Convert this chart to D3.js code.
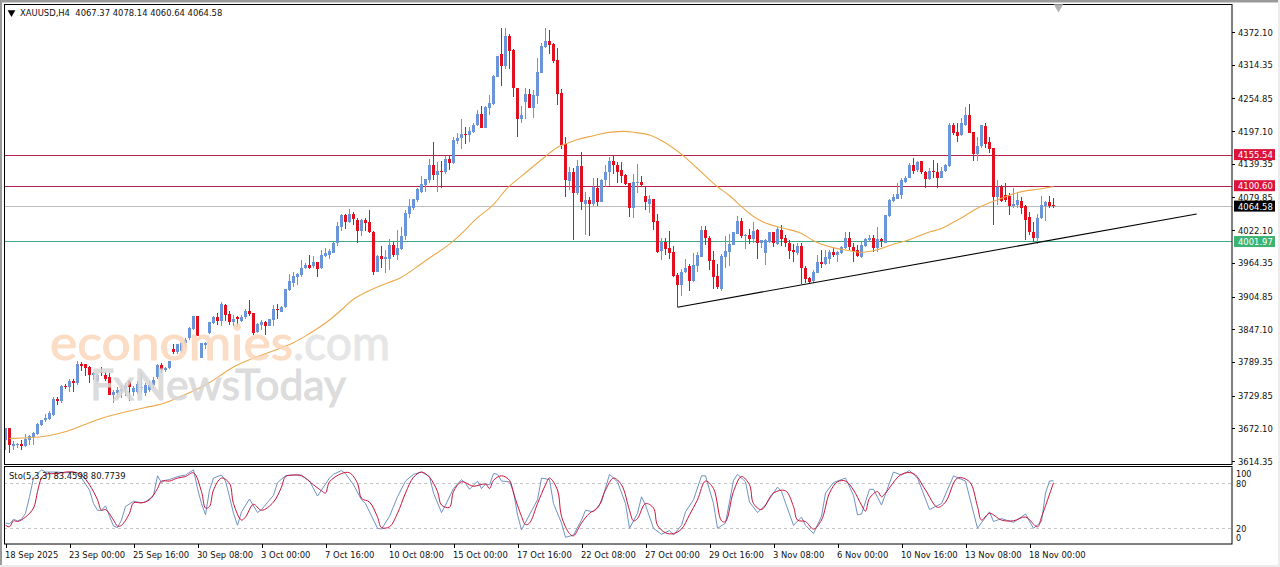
<!DOCTYPE html>
<html>
<head>
<meta charset="utf-8">
<script src="https://cdnjs.cloudflare.com/ajax/libs/d3/7.8.5/d3.min.js"></script>
<style>
html, body { margin: 0; padding: 0; background: #fff; overflow: hidden; }
svg { display: block; }
text { font-family: "DejaVu Sans Condensed", "DejaVu Sans", sans-serif; font-stretch: condensed; font-size: 9.35px; fill: #111; }
</style>
</head>
<body>
<svg id="chart" width="1280" height="567"></svg>
<script>
/* H4 candles, one entry per bar */
var opens = [3651,3672,3641,3642,3644,3640,3651,3657,3662,3678,3687,3688,3696,3723,3720,3747,3745,3756,3753,3786,
3785,3780,3766,3756,3772,3766,3763,3731,3735,3738,3742,3755,3737,3737,3745,3734,3740,3748,3762,3784,
3775,3778,3813,3806,3808,3823,3831,3847,3871,3796,3820,3841,3858,3868,3862,3890,3874,3859,3868,3862,
3868,3879,3876,3843,3854,3859,3853,3863,3883,3878,3886,3916,3929,3940,3943,3955,3961,3958,3965,3955,
3977,3978,3982,4000,4028,4048,4037,4051,4040,4020,4040,4037,4019,3949,3977,3972,3972,3996,3978,3988,
4011,4051,4061,4075,4090,4101,4110,4137,4120,4126,4124,4147,4140,4180,4184,4192,4190,4196,4208,4228,
4203,4238,4245,4293,4333,4312,4365,4340,4274,4219,4249,4263,4238,4259,4300,4346,4356,4351,4323,4265,
4174,4109,4124,4087,4135,4068,4075,4068,4097,4072,4110,4124,4144,4137,4128,4119,4105,4061,4105,4108,
4082,4069,4078,4039,3986,4001,3991,3984,3943,3925,3948,3958,3932,3959,3975,4022,4009,3970,3941,3919,
3975,3984,3996,4015,4039,4011,4014,4007,4022,3999,3982,4002,4018,3998,4022,4008,4000,3987,3982,3994,
3956,3938,3932,3947,3965,3962,3972,3983,3979,3982,3991,4008,3993,3987,3974,3994,4005,4009,3990,4007,
4000,4047,4073,4078,4084,4108,4114,4137,4128,4144,4125,4112,4127,4125,4115,4126,4135,4208,4195,4190,
4208,4226,4195,4157,4170,4206,4177,4168,4081,4099,4084,4082,4064,4067,4074,4064,4045,4019,4008,4043,
4065,4072,4067.37];
var highs = [3672,3672,3649,3647,3651,3662,3660,3666,3681,3687,3697,3702,3728,3728,3749,3750,3759,3759,3791,3789,
3786,3782,3772,3769,3780,3772,3769,3740,3745,3748,3752,3757,3747,3755,3770,3752,3755,3762,3786,3788,
3780,3791,3821,3821,3825,3832,3851,3871,3871,3823,3825,3859,3870,3875,3895,3892,3879,3872,3871,3872,
3882,3898,3876,3858,3863,3861,3866,3890,3891,3888,3919,3944,3949,3947,3969,3964,3978,3976,3966,3987,
3990,3988,4002,4037,4050,4050,4059,4055,4043,4041,4043,4058,4021,3978,3994,3987,4006,4002,4022,4027,
4058,4077,4078,4096,4118,4113,4147,4178,4143,4144,4153,4153,4186,4193,4218,4205,4204,4211,4234,4241,
4241,4261,4296,4330,4379,4379,4369,4342,4274,4241,4273,4271,4269,4326,4353,4380,4376,4353,4343,4271,
4187,4134,4131,4146,4160,4090,4081,4114,4115,4112,4137,4152,4153,4143,4143,4122,4106,4121,4139,4118,
4100,4084,4078,4051,4009,4008,4021,3994,3946,3953,3971,3962,3981,3984,4029,4029,4012,3986,3963,3980,
4012,4016,4019,4047,4043,4016,4025,4037,4025,4005,4006,4019,4019,4028,4031,4014,4005,3998,3999,3999,
3958,3939,3952,3978,3987,3987,3987,3990,3986,3994,4018,4019,3999,3996,4002,4008,4014,4014,4028,4009,
4049,4078,4086,4105,4114,4117,4141,4149,4145,4145,4127,4131,4146,4141,4134,4139,4211,4211,4211,4220,
4239,4245,4196,4187,4208,4211,4187,4168,4111,4102,4106,4087,4096,4090,4080,4066,4055,4037,4051,4082,
4074,4082,4078.14];
var lows = [3634,3628,3634,3637,3633,3639,3643,3643,3660,3677,3684,3686,3694,3713,3717,3741,3737,3736,3749,3774,
3765,3752,3758,3752,3765,3755,3731,3717,3728,3726,3730,3721,3730,3732,3735,3730,3737,3744,3760,3770,
3772,3776,3803,3803,3805,3818,3828,3845,3835,3796,3812,3838,3857,3855,3853,3862,3855,3853,3851,3859,
3866,3871,3837,3840,3846,3837,3852,3852,3865,3877,3884,3915,3922,3925,3940,3953,3953,3955,3939,3953,
3975,3972,3981,3994,4021,4024,4035,4031,4000,4011,4020,4017,3943,3948,3956,3947,3952,3974,3969,3987,
4005,4043,4058,4072,4088,4090,4105,4110,4090,4097,4121,4128,4139,4175,4165,4174,4177,4193,4206,4202,
4202,4226,4243,4292,4277,4306,4306,4258,4186,4212,4218,4237,4221,4245,4299,4343,4333,4318,4243,4165,
4081,4093,4004,4084,4057,4014,4011,4065,4065,4071,4099,4100,4122,4106,4105,4102,4046,4044,4087,4099,
4057,4052,4022,3982,3969,3978,3972,3939,3886,3905,3946,3915,3931,3949,3974,3996,3951,3918,3919,3915,
3956,3959,3996,4015,4009,3988,3998,3999,3972,3990,3961,4000,3993,3996,3994,3993,3971,3966,3978,3927,
3929,3927,3929,3946,3955,3961,3962,3975,3965,3980,3989,3987,3965,3974,3973,3993,4002,3984,3984,3993,
4000,4046,4072,4077,4077,4106,4114,4122,4124,4121,4096,4111,4115,4096,4114,4125,4134,4190,4178,4188,
4206,4193,4145,4145,4168,4168,4158,4031,4067,4072,4072,4049,4062,4061,4051,4005,4014,4002,3998,4041,
4039,4062,4060.64];
var closes = [3672,3643,3644,3644,3640,3654,3659,3664,3680,3686,3691,3699,3724,3721,3747,3746,3756,3753,3786,3783,
3778,3766,3769,3766,3769,3759,3731,3737,3740,3742,3746,3745,3743,3750,3745,3749,3749,3758,3784,3775,
3778,3791,3806,3821,3823,3828,3849,3871,3835,3823,3823,3859,3868,3861,3892,3872,3859,3866,3865,3869,
3880,3874,3841,3856,3859,3853,3865,3883,3881,3886,3918,3932,3941,3944,3956,3961,3956,3965,3953,3978,
3982,3986,3999,4030,4048,4037,4051,4041,4020,4040,4035,4018,3949,3977,3972,3974,3996,3978,3991,4012,
4052,4064,4078,4094,4104,4112,4137,4120,4127,4124,4147,4140,4181,4185,4192,4190,4197,4208,4228,4203,
4239,4246,4294,4329,4312,4365,4339,4274,4219,4226,4263,4238,4261,4302,4347,4356,4349,4321,4263,4173,
4110,4124,4087,4135,4072,4075,4068,4099,4072,4111,4124,4144,4137,4125,4118,4104,4061,4107,4107,4101,
4071,4078,4037,3984,4002,3989,3982,3941,3925,3949,3956,3932,3961,3978,4022,4008,3968,3940,3921,3976,
3985,3998,4018,4039,4011,4014,4007,4021,3999,4004,4005,4018,3999,4024,4006,3999,3986,3984,3994,3956,
3935,3931,3948,3965,3963,3975,3983,3978,3984,3992,4008,3992,3985,3976,3995,4006,4009,3991,4006,4003,
4049,4075,4080,4086,4111,4115,4137,4127,4142,4124,4113,4127,4124,4115,4127,4137,4208,4194,4188,4211,
4226,4194,4157,4171,4207,4175,4165,4081,4099,4074,4075,4064,4069,4075,4061,4040,4018,4008,4043,4067,
4072,4065,4064.58];

/* 50 period average, sampled along the line */
var maBars = [1,9,13,17,23,30,35,40,43,47,51,54,57,60,67,71,75,78,81,84,87,91,95,99,103,107,111,115,118,122,125,129,133,136,138,140,143,146,149,152,155,157,159,161,164,167,170,173,176,178,181,184,187,190,193,196,199,202,205,208,211,214,217,220,222,225,228,231,234,237,239,242,246,249,252,255,258,261,262];
var maValues = [3654,3656,3662,3670,3689,3701,3709,3716,3726,3738,3752,3767,3781,3791,3809,3819,3835,3848,3863,3881,3902,3916,3928,3937,3958,3978,3996,4022,4046,4064,4096,4117,4141,4158,4170,4174,4183,4187,4193,4196,4197,4195,4193,4191,4181,4167,4151,4131,4111,4098,4084,4063,4045,4034,4028,4023,4018,4002,3995,3989,3986,3982,3985,3992,3998,4002,4011,4020,4023,4037,4043,4058,4071,4078,4087,4092,4094,4098,4099];

/* stochastic main line */
var kBars = [0,1,2,3,4,5,6,7,9,10,13,15,17,19,21,22,23,24,25,26,27,28,29,30,32,34,35,37,38,39,40,41,43,45,47,48,49,50,51,52,54,55,56,57,58,59,61,63,64,67,68,70,72,74,76,78,79,81,82,84,85,87,89,90,92,93,94,96,98,100,102,104,106,107,109,110,112,114,115,116,118,119,120,121,122,123,124,126,127,128,129,131,133,134,136,137,139,140,142,144,145,147,149,151,153,155,156,158,159,160,162,164,166,167,169,170,172,174,175,177,178,180,182,183,185,186,188,190,193,194,197,199,200,202,204,205,207,210,212,213,214,216,217,219,222,224,226,228,231,234,237,240,243,246,247,249,252,255,257,259,260,261,262];
var kValues = [27,26,32,30,32,40,62,87,98,95,95,94,95,87,71,53,44,44,50,36,23,21,31,49,56,54,55,64,90,81,84,85,89,91,98,73,53,38,71,87,91,83,62,40,24,42,59,41,45,64,81,90,91,91,83,63,71,87,92,97,93,78,58,53,31,20,19,36,62,83,92,95,89,67,41,51,73,85,80,72,83,73,79,78,93,92,83,82,69,38,18,38,58,87,85,53,27,8,11,31,44,42,55,92,82,53,20,40,62,51,20,12,17,11,24,42,58,90,90,53,20,27,84,92,82,55,41,51,75,69,24,35,24,13,36,67,81,87,64,38,39,72,72,51,95,91,97,87,45,53,90,83,20,42,29,33,28,39,20,29,67,83,83.46];

/* stochastic signal line */
var dBars = [0,1,2,3,5,7,8,9,10,13,15,17,19,21,23,24,25,27,28,29,31,32,34,36,38,39,41,43,45,47,49,50,51,52,54,56,57,59,60,62,64,67,69,70,72,74,77,79,80,81,84,86,88,89,91,93,94,96,98,100,102,104,106,108,109,111,112,114,116,117,120,121,122,124,126,127,129,130,131,133,135,136,138,139,141,142,144,146,148,150,152,154,156,157,158,160,162,163,165,167,169,171,173,175,177,179,180,182,184,186,187,189,192,195,197,198,200,202,204,206,208,210,212,214,215,216,218,219,220,224,227,230,233,235,238,241,243,244,246,249,252,255,258,259,262];
var dValues = [24,22,30,29,35,47,69,87,92,93,95,95,91,78,58,44,45,31,23,24,40,54,54,58,73,83,83,87,89,94,69,47,49,71,87,80,53,31,35,52,44,55,75,89,91,90,78,70,67,82,93,94,80,60,55,35,21,22,40,67,88,95,88,69,51,48,69,82,78,76,79,73,84,90,84,67,36,25,27,53,78,87,71,36,13,10,27,40,47,71,87,78,44,30,33,53,47,24,14,13,19,38,58,83,73,30,29,69,89,78,53,45,67,70,49,31,29,19,31,67,82,83,71,51,43,60,69,62,67,92,93,71,48,55,87,82,49,31,40,31,30,35,22,35,80.77];

var priceTicks = [4372.10,4314.35,4254.85,4197.10,4139.35,4079.85,4022.10,3964.35,3904.85,3847.10,3789.35,3729.85,3672.10,3614.35];
var stoTicks = [100,80,20,0];
var stoGuides = [80,20];

// one date label every 16 bars
var dateBars = [0,16,32,48,64,80,96,112,128,144,160,176,192,208,224,240,256];
var dateLabels = ["18 Sep 2025","23 Sep 00:00","25 Sep 16:00","30 Sep 08:00","3 Oct 00:00","7 Oct 16:00","10 Oct 08:00","15 Oct 00:00","17 Oct 16:00","22 Oct 08:00","27 Oct 00:00","29 Oct 16:00","3 Nov 08:00","6 Nov 00:00","10 Nov 16:00","13 Nov 08:00","18 Nov 00:00"];

var levelPrices = [4155.54,4100.60,4064.58,4001.97];
var levelNames = ["resistance","resistance","last","support"];

// support line, start and end as bar / price
var trendBars = [168,297.8];
var trendPrices = [3886,4050.7];

var levelColors = {resistance: "#b5234c", last: "#bdbdbd", support: "#3fa981"};
var boxColors = {resistance: "#dc143c", last: "#000", support: "#3cb371"};

var svg = d3.select("#chart");
var frameLeft = 4, frameRight = 1232;

var x = d3.scaleLinear().domain([0, 262]).range([5.5, 1053.5]);
var y = d3.scaleLinear().domain([3614.35, 4372.10]).range([461, 32]);
var ySto = d3.scaleLinear().domain([0, 100]).range([543.3, 468.3]);

// window chrome around the chart
svg.append("rect").attr("width", 1280).attr("height", 567).attr("fill", "#fff");
svg.append("rect").attr("x", 0).attr("y", 0).attr("width", 1280).attr("height", 2.5).attr("fill", "#9a9a9a");
svg.append("rect").attr("x", 0).attr("y", 0).attr("width", 2).attr("height", 567).attr("fill", "#9a9a9a");
svg.append("rect").attr("x", 0).attr("y", 565).attr("width", 1280).attr("height", 2).attr("fill", "#ececec");
svg.append("rect").attr("x", 1278).attr("y", 0).attr("width", 2).attr("height", 567).attr("fill", "#ececec");

/**
 * axes first, so that the level boxes can sit on top of the tick labels
 */
var priceAxis = d3.axisRight(y).tickValues(priceTicks).tickFormat(d3.format(".2f")).tickSize(3).tickPadding(3);
var gPrice = svg.append("g").attr("transform", "translate(" + frameRight + ",0)").call(priceAxis);
gPrice.select(".domain").remove();

var stoAxis = d3.axisRight(ySto).tickValues(stoTicks).tickFormat(d3.format("d")).tickSize(0).tickPadding(4);
var gSto = svg.append("g").attr("transform", "translate(" + frameRight + ",0)").call(stoAxis);
gSto.select(".domain").remove();
gSto.selectAll("text").style("font-size", "9px").attr("dy", function(d){
    if (d == 100) return "0.9em";
    if (d == 0) return "-0.3em";
    return "0.32em";
});

var dateAxis = d3.axisBottom(x).tickValues(dateBars).tickFormat(function(d, i){ return dateLabels[i]; }).tickSize(4).tickPadding(2);
var gDate = svg.append("g").attr("transform", "translate(0,544)").call(dateAxis);
gDate.select(".domain").remove();
gDate.selectAll("text").attr("text-anchor", "start").attr("x", -1).attr("dy", "0.85em");

svg.selectAll("g.tick line").attr("stroke", "#000").attr("shape-rendering", "crispEdges");
svg.selectAll("g.tick text").style("fill", "#111");

// horizontal levels
function levelY(d){
    return Math.floor(y(d) + 0.4) + 0.5;
}
svg.append("g").selectAll("line").data(levelPrices).join("line")
    .attr("x1", frameLeft).attr("x2", frameRight)
    .attr("y1", levelY)
    .attr("y2", levelY)
    .attr("stroke", function(d, i){ return levelColors[levelNames[i]]; });

// wicks and bodies
var bars = d3.range(opens.length);
var gCandles = svg.append("g").attr("shape-rendering", "crispEdges");

gCandles.selectAll("rect.wick").data(bars).join("rect")
    .attr("class", "wick")
    .attr("x", function(i){ return x(i) - 0.5; })
    .attr("width", 1)
    .attr("y", function(i){ return y(highs[i]); })
    .attr("height", function(i){ return Math.max(1, y(lows[i]) - y(highs[i])); })
    .attr("fill", candleColor);

gCandles.selectAll("rect.body").data(bars).join("rect")
    .attr("class", "body")
    .attr("x", function(i){ return x(i) - 1.5; })
    .attr("width", 3)
    .attr("y", function(i){ return y(Math.max(opens[i], closes[i])); })
    .attr("height", function(i){ return Math.max(1, Math.abs(y(opens[i]) - y(closes[i]))); })
    .attr("fill", candleColor);

function candleColor(i){
    return closes[i] >= opens[i] ? "#6b95d9" : "#e0101e";
}

// moving average
var maLine = d3.line()
    .x(function(d){ return x(d[0]); })
    .y(function(d){ return y(d[1]); })
    .curve(d3.curveBasis);

svg.append("path")
    .attr("d", maLine(d3.zip(maBars, maValues)))
    .attr("fill", "none")
    .attr("stroke", "#eda84a")
    .attr("stroke-width", 1.1);

// support trendline
svg.append("line")
    .attr("x1", x(trendBars[0])).attr("y1", y(trendPrices[0]))
    .attr("x2", x(trendBars[1])).attr("y2", y(trendPrices[1]))
    .attr("stroke", "#000").attr("stroke-width", 1.1);

// watermarks lie over the candles
var gMark = svg.append("g").attr("opacity", 0.85);
function markText(s, left, base, len, size, color){
    gMark.append("text").text(s).attr("x", left).attr("y", base)
        .attr("textLength", len).attr("lengthAdjust", "spacingAndGlyphs")
        .style("font-family", "Lato, sans-serif").style("font-stretch", "normal")
        .style("font-size", size + "px").style("fill", color)
        .style("stroke", color).style("stroke-width", 1);
}
markText("economies", 50, 360, 243, 49, "#fbd6ba");
markText(".com", 293, 360, 97, 49, "#e2e2e2");
markText("FxNewsToday", 90, 400, 256, 42, "#d6d6d6");

// price boxes on the axis
var gBox = svg.append("g");
levelPrices.forEach(function(p, i){
    gBox.append("rect")
        .attr("x", 1234).attr("width", 41)
        .attr("y", y(p) - 5.5).attr("height", 11)
        .attr("fill", boxColors[levelNames[i]]);
    gBox.append("text")
        .attr("x", 1238).attr("y", y(p) + 3.4)
        .style("fill", "#fff")
        .text(d3.format(".2f")(p));
});

// stochastic guides and lines
svg.append("g").selectAll("line").data(stoGuides).join("line")
    .attr("x1", frameLeft).attr("x2", frameRight)
    .attr("y1", function(d){ return Math.round(ySto(d)) + 0.5; })
    .attr("y2", function(d){ return Math.round(ySto(d)) + 0.5; })
    .attr("stroke", "#c4c4c4").attr("stroke-dasharray", "3,3");

var kLine = d3.line().x(function(d){ return x(d[0]); }).y(function(d){ return ySto(d[1]); });
var dLine = d3.line().x(function(d){ return x(d[0]); }).y(function(d){ return ySto(d[1]); }).curve(d3.curveCatmullRom.alpha(0.5));

svg.append("path").attr("d", kLine(d3.zip(kBars, kValues)))
    .attr("fill", "none").attr("stroke", "#6f93c4").attr("stroke-width", 1);
svg.append("path").attr("d", dLine(d3.zip(dBars, dValues)))
    .attr("fill", "none").attr("stroke", "#c8143c").attr("stroke-width", 1);

// frames of the two panes
svg.append("rect").attr("x", 4.5).attr("y", 4.5).attr("width", frameRight - 4.5).attr("height", 460)
    .attr("fill", "none").attr("stroke", "#000");
svg.append("rect").attr("x", 4.5).attr("y", 466.5).attr("width", frameRight - 4.5).attr("height", 77.5)
    .attr("fill", "none").attr("stroke", "#000");

// header texts
svg.append("path").attr("d", d3.symbol(d3.symbolTriangle, 26)()).attr("fill", "#000")
    .attr("transform", "translate(11.5,12.5) rotate(180)");
svg.append("text").attr("x", 20).attr("y", 16)
    .text("XAUUSD,H4  4067.37 4078.14 4060.64 4064.58").attr("xml:space", "preserve");
svg.append("text").attr("x", 9).attr("y", 479).text("Sto(5,3,3) 83.4598 80.7739");

// shift marker on the top edge
svg.append("path").attr("d", d3.symbol(d3.symbolTriangle, 40)()).attr("fill", "#b4b4b4")
    .attr("transform", "translate(1058.5,7) rotate(180)");
</script>
</body>
</html>
